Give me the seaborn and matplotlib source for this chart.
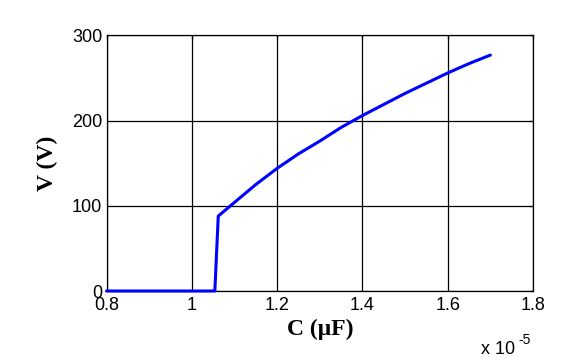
import matplotlib
matplotlib.use("Agg")
import matplotlib.pyplot as plt
import seaborn as sns
import pandas as pd
from matplotlib.ticker import FuncFormatter

# Data (C in units of 1e-5 F as labelled on the axis, V in volts)
C_vals = [0.8, 1.054, 1.062, 1.1, 1.15, 1.2, 1.25, 1.3, 1.35, 1.4, 1.45, 1.5, 1.55, 1.6, 1.65, 1.7]
V_vals = [0, 0, 88, 104, 125, 144, 161, 176, 192, 206, 219, 232, 244, 256, 267, 277]
x_ticks = [0.8, 1.0, 1.2, 1.4, 1.6, 1.8]
y_ticks = [0, 100, 200, 300]

df = pd.DataFrame({"C": C_vals, "V": V_vals})

sns.set_style("white")
plt.rcParams["font.family"] = ["Liberation Sans", "DejaVu Sans"]
plt.rcParams["text.color"] = "black"
plt.rcParams["axes.labelcolor"] = "black"

fig = plt.figure(figsize=(5.66, 3.61), dpi=100)
ax = fig.add_axes([0.1882, 0.1939, 0.9417 - 0.1882, 0.9017 - 0.1939])

sns.lineplot(data=df, x="C", y="V", ax=ax, color="#0000ff", linewidth=2.2,
             sort=False, estimator=None, clip_on=False, zorder=5)

ax.set_xlim(0.8, 1.8)
ax.set_ylim(0, 300)
ax.set_xticks(x_ticks)
ax.set_yticks(y_ticks)
ax.xaxis.set_major_formatter(FuncFormatter(lambda v, p: f"{v:g}"))
ax.grid(True, color="black", linewidth=0.9, linestyle="-")
ax.set_axisbelow(True)
for s in ax.spines.values():
    s.set_color("black")
    s.set_linewidth(0.9)
    s.set_visible(True)
ax.tick_params(axis="both", direction="in", length=3, width=0.9, colors="black",
               labelsize=13, top=True, right=True, pad=4)
ax.tick_params(axis="y", pad=3)

ax.set_xlabel("C (μF)", fontsize=17, fontweight="bold", color="black",
              fontfamily=["Liberation Serif", "DejaVu Serif"], labelpad=4)
ax.set_ylabel("V (V)", fontsize=17, fontweight="bold", color="black",
              fontfamily=["Liberation Serif", "DejaVu Serif"], labelpad=10)

fig.text(481 / 566, 1 - 349 / 361, "x 10", fontsize=13,
         ha="left", va="center", color="black")
fig.text(518 / 566, 1 - 340 / 361, "-5", fontsize=10,
         ha="left", va="center", color="black")

fig.savefig("out.png", dpi=100)
